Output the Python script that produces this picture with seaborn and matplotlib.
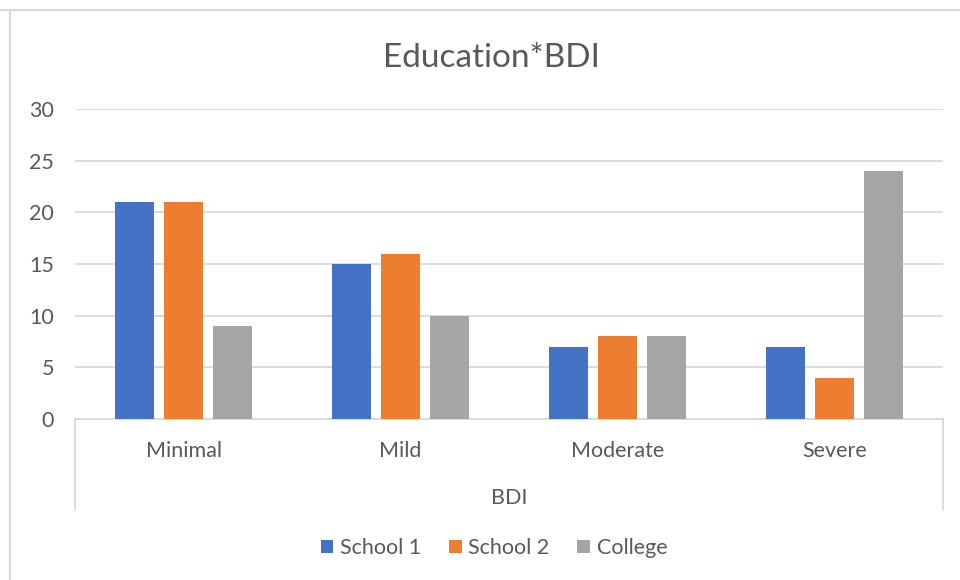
import matplotlib
matplotlib.use("Agg")
import matplotlib.pyplot as plt
from matplotlib.lines import Line2D
from matplotlib.patches import Patch
import seaborn as sns
import pandas as pd

categories = ["Minimal", "Mild", "Moderate", "Severe"]
groups = ["School 1", "School 2", "College"]
school1 = [21, 15, 7, 7]
school2 = [21, 16, 8, 4]
college = [9, 10, 8, 24]
yticks = [0, 5, 10, 15, 20, 25, 30]

colors = ["#4472C4", "#ED7D31", "#A5A5A5"]
text_color = "#595959"
grid_color = "#D9D9D9"

df = pd.DataFrame({
    "BDI": categories * 3,
    "Education": [g for g in groups for _ in categories],
    "Count": school1 + school2 + college,
})

sns.set_theme(style="white")
plt.rcParams["font.family"] = ["Lato", "DejaVu Sans"]

fig = plt.figure(figsize=(9.6, 5.8), dpi=100)
ax = fig.add_axes([75 / 960, 1 - 419 / 580, 868 / 960, 310 / 580])

sns.barplot(data=df, x="BDI", y="Count", hue="Education", order=categories,
            hue_order=groups, palette=colors, width=0.676, gap=0.2,
            saturation=1, linewidth=0, legend=False, ax=ax, zorder=3)

ax.set_ylim(0, 30)
ax.set_xlim(-0.5, 3.5)
ax.set_yticks(yticks)
ax.yaxis.grid(True, color=grid_color, linewidth=1.3, zorder=0)
ax.set_axisbelow(True)
for side in ["top", "right", "left"]:
    ax.spines[side].set_visible(False)
ax.spines["bottom"].set_color(grid_color)
ax.spines["bottom"].set_linewidth(1.3)
ax.tick_params(axis="both", length=0, labelsize=15.5, labelcolor=text_color)
ax.tick_params(axis="x", pad=16)
ax.tick_params(axis="y", pad=15)
ax.set_ylabel("")
ax.set_xlabel("BDI", fontsize=15.5, color=text_color, labelpad=19)

# category-level boundary lines below the axis
for xa in (0, 1):
    ax.add_line(Line2D([xa, xa], [0, -0.294], transform=ax.transAxes,
                       color=grid_color, linewidth=1.3, clip_on=False))

ax.set_title("Education*BDI", fontsize=24, color=text_color, pad=30,
             x=(491 - 75) / 868)

handles = [Patch(facecolor=c, edgecolor="none") for c in colors]
fig.legend(handles, groups, loc="center", bbox_to_anchor=(494 / 960, 1 - 548 / 580),
           ncol=3, frameon=False, fontsize=15.5, labelcolor=text_color,
           handlelength=0.6, handleheight=0.6, handletextpad=0.3, columnspacing=1.3)

# chart frame edges
fig.add_artist(Line2D([0, 1], [1 - 9.5 / 580] * 2, color="#D9D9D9", linewidth=1.5))
fig.add_artist(Line2D([10 / 960] * 2, [0, 1 - 9.5 / 580], color="#D9D9D9", linewidth=1.5))

fig.savefig("out.png", dpi=100, facecolor="white")
